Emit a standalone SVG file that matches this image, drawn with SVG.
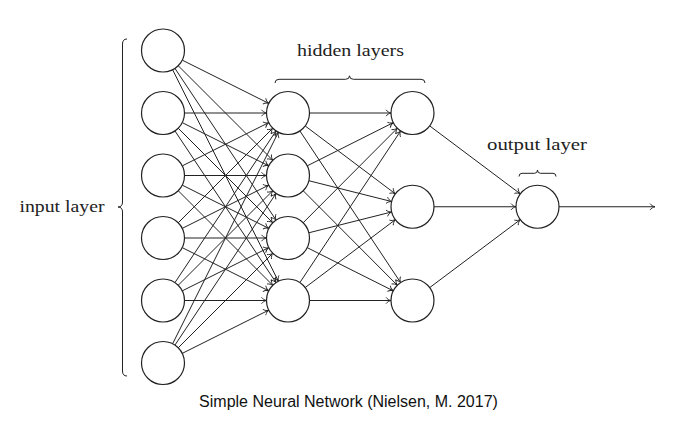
<svg xmlns="http://www.w3.org/2000/svg" width="687" height="421" viewBox="0 0 687 421">
<style>
.node{fill:#fff;stroke:#222;stroke-width:1.2}
.edge{stroke:#222;stroke-width:1;fill:none;marker-end:url(#arr)}
.brace{fill:none;stroke:#222;stroke-width:1}
.lbl{font-family:"Liberation Serif","DejaVu Serif",serif;font-size:17.5px;fill:#222;text-anchor:middle}
.cap{font-family:"Liberation Sans",Arial,sans-serif;font-size:16px;fill:#111;text-anchor:middle}
</style>
<defs>
<marker id="arr" viewBox="-7 -5 8 10" refX="0" refY="0" markerUnits="userSpaceOnUse" markerWidth="8" markerHeight="10" orient="auto" overflow="visible">
<path d="M-5,-3.2 C-4,-1.6 -1.6,-0.3 0,0 C-1.6,0.3 -4,1.6 -5,3.2" fill="none" stroke="#222" stroke-width="0.9"/>
</marker>
</defs>
<rect width="687" height="421" fill="#fff"/>
<g id="connectors">
<line class="edge" x1="182.23" y1="60.11" x2="268.77" y2="103.39"/>
<line class="edge" x1="178.2" y1="65.7" x2="272.8" y2="160.3"/>
<line class="edge" x1="174.93" y1="68.39" x2="276.07" y2="220.11"/>
<line class="edge" x1="172.61" y1="69.73" x2="278.39" y2="281.27"/>
<line class="edge" x1="184.5" y1="113" x2="266.5" y2="113"/>
<line class="edge" x1="182.23" y1="122.61" x2="268.77" y2="165.89"/>
<line class="edge" x1="178.2" y1="128.2" x2="272.8" y2="222.8"/>
<line class="edge" x1="174.93" y1="130.89" x2="276.07" y2="282.61"/>
<line class="edge" x1="182.23" y1="165.89" x2="268.77" y2="122.61"/>
<line class="edge" x1="184.5" y1="175.5" x2="266.5" y2="175.5"/>
<line class="edge" x1="182.23" y1="185.11" x2="268.77" y2="228.39"/>
<line class="edge" x1="178.2" y1="190.7" x2="272.8" y2="285.3"/>
<line class="edge" x1="178.2" y1="222.8" x2="272.8" y2="128.2"/>
<line class="edge" x1="182.23" y1="228.39" x2="268.77" y2="185.11"/>
<line class="edge" x1="184.5" y1="238" x2="266.5" y2="238"/>
<line class="edge" x1="182.23" y1="247.61" x2="268.77" y2="290.89"/>
<line class="edge" x1="174.93" y1="282.61" x2="276.07" y2="130.89"/>
<line class="edge" x1="178.2" y1="285.3" x2="272.8" y2="190.7"/>
<line class="edge" x1="182.23" y1="290.89" x2="268.77" y2="247.61"/>
<line class="edge" x1="184.5" y1="300.5" x2="266.5" y2="300.5"/>
<line class="edge" x1="172.61" y1="343.77" x2="278.39" y2="132.23"/>
<line class="edge" x1="174.93" y1="345.11" x2="276.07" y2="193.39"/>
<line class="edge" x1="178.2" y1="347.8" x2="272.8" y2="253.2"/>
<line class="edge" x1="182.23" y1="353.39" x2="268.77" y2="310.11"/>
<line class="edge" x1="309.5" y1="113" x2="391" y2="113"/>
<line class="edge" x1="305.17" y1="125.93" x2="395.33" y2="193.82"/>
<line class="edge" x1="299.89" y1="130.91" x2="400.61" y2="282.59"/>
<line class="edge" x1="307.21" y1="165.85" x2="393.29" y2="122.65"/>
<line class="edge" x1="308.85" y1="180.73" x2="391.65" y2="201.52"/>
<line class="edge" x1="303.17" y1="190.73" x2="397.33" y2="285.27"/>
<line class="edge" x1="303.17" y1="222.77" x2="397.33" y2="128.23"/>
<line class="edge" x1="308.85" y1="232.77" x2="391.65" y2="211.98"/>
<line class="edge" x1="307.21" y1="247.65" x2="393.29" y2="290.85"/>
<line class="edge" x1="299.89" y1="282.59" x2="400.61" y2="130.91"/>
<line class="edge" x1="305.17" y1="287.57" x2="395.33" y2="219.68"/>
<line class="edge" x1="309.5" y1="300.5" x2="391" y2="300.5"/>
<line class="edge" x1="429.7" y1="125.9" x2="520.3" y2="193.85"/>
<line class="edge" x1="434" y1="206.75" x2="516" y2="206.75"/>
<line class="edge" x1="429.7" y1="287.6" x2="520.3" y2="219.65"/>
<line class="edge" x1="559" y1="206.75" x2="655" y2="206.75"/>
</g>
<g id="input-layer">
<circle id="in1" class="node" cx="163" cy="50.5" r="21.5"/>
<circle id="in2" class="node" cx="163" cy="113" r="21.5"/>
<circle id="in3" class="node" cx="163" cy="175.5" r="21.5"/>
<circle id="in4" class="node" cx="163" cy="238" r="21.5"/>
<circle id="in5" class="node" cx="163" cy="300.5" r="21.5"/>
<circle id="in6" class="node" cx="163" cy="363" r="21.5"/>
</g>
<g id="hidden-layer-1">
<circle id="h1a" class="node" cx="288" cy="113" r="21.5"/>
<circle id="h1b" class="node" cx="288" cy="175.5" r="21.5"/>
<circle id="h1c" class="node" cx="288" cy="238" r="21.5"/>
<circle id="h1d" class="node" cx="288" cy="300.5" r="21.5"/>
</g>
<g id="hidden-layer-2">
<circle id="h2a" class="node" cx="412.5" cy="113" r="21.5"/>
<circle id="h2b" class="node" cx="412.5" cy="206.75" r="21.5"/>
<circle id="h2c" class="node" cx="412.5" cy="300.5" r="21.5"/>
</g>
<g id="output-layer">
<circle id="out" class="node" cx="537.5" cy="206.75" r="21.5"/>
</g>
<g id="input-label">
<path class="brace" d="M127,39 Q122.5,39 122.5,44 L122.5,202 Q122.5,207 118,207 Q122.5,207 122.5,212 L122.5,371 Q122.5,376 127,376"/>
<text class="lbl" x="62" y="212" textLength="85" lengthAdjust="spacingAndGlyphs">input layer</text>
</g>
<g id="hidden-label">
<path class="brace" d="M275,83 Q275,79.3 279,79.3 L345.5,79.3 Q349.5,79.3 349.5,75.8 Q349.5,79.3 353.5,79.3 L421,79.3 Q425,79.3 425,83"/>
<text class="lbl" x="350.5" y="56" textLength="107" lengthAdjust="spacingAndGlyphs">hidden layers</text>
</g>
<g id="output-label">
<path class="brace" d="M519,176.5 Q519,173.3 522,173.3 L534.5,173.3 Q537.5,173.3 537.5,170 Q537.5,173.3 540.5,173.3 L553,173.3 Q556,173.3 556,176.5"/>
<text class="lbl" x="537" y="149.5" textLength="100" lengthAdjust="spacingAndGlyphs">output layer</text>
</g>
<text class="cap" x="348.5" y="407">Simple Neural Network (Nielsen, M. 2017)</text>
</svg>
